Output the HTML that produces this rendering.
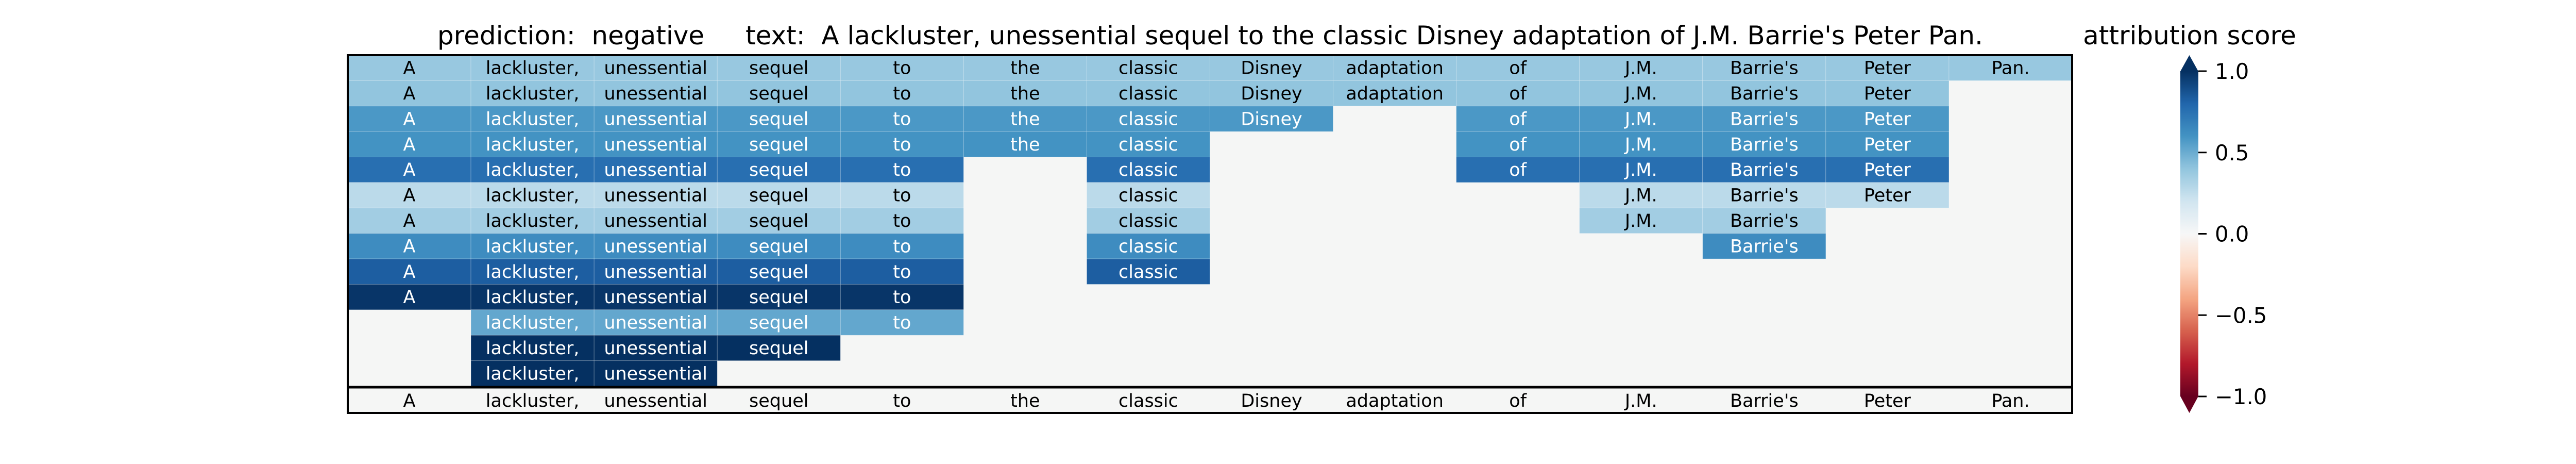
<!DOCTYPE html>
<html><head><meta charset="utf-8"><style>
html,body{margin:0;padding:0;background:#fff;}
svg{display:block;font-family:"DejaVu Sans","Liberation Sans",sans-serif;}
</style></head><body>
<svg id="chart" width="5400" height="900" viewBox="0 0 5400 900" xmlns="http://www.w3.org/2000/svg">
<defs>
<linearGradient id="rdbu" x1="0" y1="1" x2="0" y2="0">
<stop offset="0" stop-color="#67001f"/><stop offset="0.1" stop-color="#b2182b"/><stop offset="0.2" stop-color="#d6604d"/><stop offset="0.3" stop-color="#f4a582"/><stop offset="0.4" stop-color="#fddbc7"/><stop offset="0.5" stop-color="#f7f7f7"/><stop offset="0.6" stop-color="#d1e5f0"/><stop offset="0.7" stop-color="#92c5de"/><stop offset="0.8" stop-color="#4393c3"/><stop offset="0.9" stop-color="#2166ac"/><stop offset="1" stop-color="#053061"/>
</linearGradient>
</defs>
<text x="1108" y="86" font-size="50" text-anchor="middle" xml:space="preserve">prediction:  negative</text>
<text x="2648" y="86" font-size="50" text-anchor="middle" xml:space="preserve">text:  A lackluster, unessential sequel to the classic Disney adaptation of J.M. Barrie's Peter Pan.</text>
<text x="4250" y="86" font-size="50" text-anchor="middle">attribution score</text>
<g id="heat"></g>
<g id="cbar"></g>
</svg>
<script>
const tokens = ["A","lackluster,","unessential","sequel","to","the","classic","Disney","adaptation","of","J.M.","Barrie's","Peter","Pan."];
const rowValues = [0.38,0.40,0.58,0.60,0.76,0.27,0.35,0.63,0.83,0.98,0.52,1.0,1.0];
const rowTokens = [
 [0,1,2,3,4,5,6,7,8,9,10,11,12,13],
 [0,1,2,3,4,5,6,7,8,9,10,11,12],
 [0,1,2,3,4,5,6,7,9,10,11,12],
 [0,1,2,3,4,5,6,9,10,11,12],
 [0,1,2,3,4,6,9,10,11,12],
 [0,1,2,3,4,6,10,11,12],
 [0,1,2,3,4,6,10,11],
 [0,1,2,3,4,6,11],
 [0,1,2,3,4,6],
 [0,1,2,3,4],
 [1,2,3,4],
 [1,2,3],
 [1,2]
];
const cbTicks = [1.0,0.5,0.0,-0.5,-1.0];
const cbTickLabels = ["1.0","0.5","0.0","\u22120.5","\u22121.0"];

const NS="http://www.w3.org/2000/svg";
const X0=675, X1=4022, Y0=107, YH=749, YB=801;
const CELL_FS=35;
const colW=(X1-X0)/tokens.length, rowH=(YH-Y0)/rowValues.length;
const xPos=i=>X0+i*colW, yPos=r=>Y0+r*rowH;
const stops=["#67001f","#b2182b","#d6604d","#f4a582","#fddbc7","#f7f7f7","#d1e5f0","#92c5de","#4393c3","#2166ac","#053061"];
function hex(h){return [1,3,5].map(i=>parseInt(h.substr(i,2),16));}
function rdbu(v){let t=(Math.max(-1,Math.min(1,v))+1)/2*10;let i=Math.min(9,Math.floor(t)),f=t-i;
 const a=hex(stops[i]),b=hex(stops[i+1]);return "rgb("+a.map((c,k)=>Math.round(c+(b[k]-c)*f)).join(",")+")";}
function el(tag,attrs,parent){const e=document.createElementNS(NS,tag);for(const k in attrs)e.setAttribute(k,attrs[k]);parent.appendChild(e);return e;}
const heat=document.getElementById('heat');
let bg=el('rect',{x:X0,y:Y0,width:X1-X0,height:YB-Y0,fill:'#f5f6f5'},heat);


rowValues.forEach((v,r)=>{
 rowTokens[r].forEach(ti=>{
  const c=el('rect',{x:xPos(ti),y:yPos(r),width:colW,height:rowH,fill:rdbu(v),stroke:'rgba(255,255,255,0.25)','stroke-width':1},heat);
  
  
  const t=el('text',{x:xPos(ti)+colW/2,y:yPos(r)+rowH/2+12,'font-size':CELL_FS,'text-anchor':'middle',fill:v>0.5?'#fff':'#000'},heat);
  t.textContent=tokens[ti];
  
  
 });
});
tokens.forEach((tk,i)=>{
 const t=el('text',{x:xPos(i)+colW/2,y:(YH+YB)/2+14,'font-size':CELL_FS,'text-anchor':'middle',fill:'#000'},heat);
 t.textContent=tk;
 
 
});
let sep=el('line',{x1:X0,x2:X1,y1:YH+2,y2:YH+2,stroke:'#000','stroke-width':5},heat);


let fr=el('rect',{x:X0,y:Y0,width:X1-X0,height:YB-Y0,fill:'none',stroke:'#000','stroke-width':4},heat);



const cb=document.getElementById('cbar');
const CX0=4232,CX1=4267,CT=138,CB=769,CTip=107,CBot=801;
const cy=v=>CT+(1-v)/2*(CB-CT);
let bar=el('rect',{x:CX0,y:CT,width:CX1-CX0,height:CB-CT,fill:'url(#rdbu)'},cb);


let up=el('polygon',{points:`${CX0},${CT+0.5} ${CX1},${CT+0.5} ${(CX0+CX1)/2},${CTip}`,fill:'#053061'},cb);


let dn=el('polygon',{points:`${CX0},${CB-0.5} ${CX1},${CB-0.5} ${(CX0+CX1)/2},${CBot}`,fill:'#67001f'},cb);


cbTicks.forEach((v,i)=>{
 const l=el('line',{x1:CX1,x2:CX1+16,y1:cy(v),y2:cy(v),stroke:'#000','stroke-width':3},cb);
 
 
 const t=el('text',{x:4299,y:cy(v)+15,'font-size':41.7,fill:'#000'},cb);
 t.textContent=cbTickLabels[i];
 
 
});
</script>
</body></html>
